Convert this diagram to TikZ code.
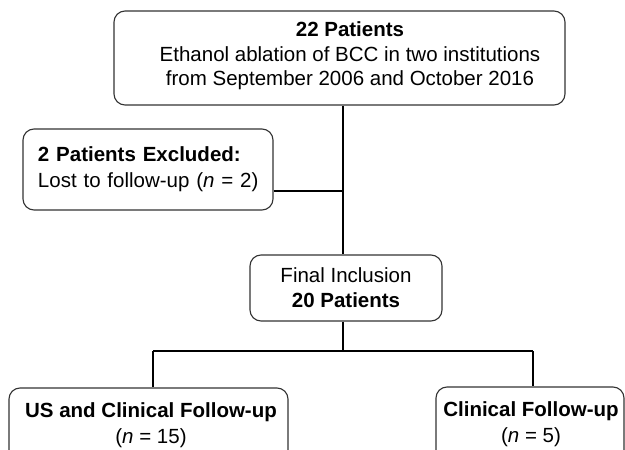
\documentclass[tikz,border=0pt]{standalone}
\usepackage{fontspec}
\setmainfont{Liberation Sans}
\begin{document}
\begin{tikzpicture}[x=1pt,y=-1pt,
  boxshape/.style={draw=black!80, line width=1.1pt, rounded corners=11pt, inner sep=0pt},
  txt/.style={inner sep=0pt, align=center, font=\fontsize{20.5}{25}\selectfont},
  conn/.style={draw=black, line width=1.8pt}]
\useasboundingbox (0,0) rectangle (625,450);
\clip (0,0) rectangle (625,450);
\fill[white] (0,0) rectangle (625,450);

% top box
\node[boxshape, minimum width=451pt, minimum height=94pt] (top) at (339.5,58) {};
\node[txt, font=\fontsize{20.5}{24.5}\selectfont] (toptxt) at (350,56) {\textbf{22 Patients}\\Ethanol ablation of BCC in two institutions\\from September 2006 and October 2016};

% excluded box
\node[boxshape, minimum height=81pt, text width=236pt, inner xsep=7pt, align=left,
      font=\fontsize{20.5}{26}\selectfont] (excl) at (148,169.5)
  {\hspace*{8pt}\textbf{2 Patients Excluded:}\\\hspace*{8pt}Lost to follow-up (\textit{n} = 2)};

% final inclusion
\node[boxshape, minimum width=192pt, minimum height=66pt, align=center,
      font=\fontsize{20.5}{25}\selectfont] (fin) at (346,288)
  {Final Inclusion\\\textbf{20 Patients}};

% bottom boxes (cut by the lower edge)
\node[boxshape, minimum width=279pt, minimum height=100pt] (bl) at (148.5,438) {};
\node[txt, font=\fontsize{20.5}{26}\selectfont] (bltxt) at (151,425) {\textbf{US and Clinical Follow-up}\\(\textit{n} = 15)};
\node[boxshape, minimum width=188pt, minimum height=100pt] (br) at (530,437) {};
\node[txt, font=\fontsize{20.5}{26}\selectfont] (brtxt) at (531,424) {\textbf{Clinical Follow-up}\\(\textit{n} = 5)};

% connectors
\coordinate (j1) at (343,191);
\coordinate (j2) at (343,351);
\coordinate (jl) at (153,351);
\coordinate (jr) at (533,351);
\draw[conn] (top.south -| j1) -- (fin.north -| j1);
\draw[conn] (excl.east |- j1) -- (j1);
\draw[conn] (fin.south -| j2) -- (j2);
\draw[conn] (jl) -- (jr);
\draw[conn] (jl) -- (bl.north -| jl);
\draw[conn] (jr) -- (br.north -| jr);
\end{tikzpicture}
\end{document}
